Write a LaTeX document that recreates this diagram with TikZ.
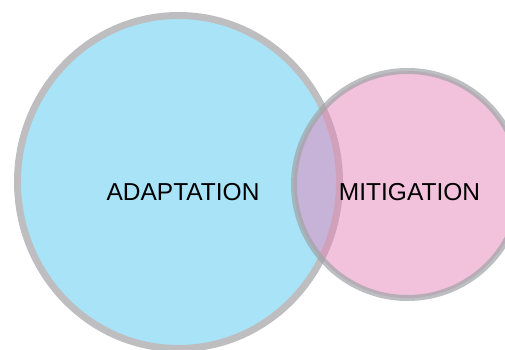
\documentclass[tikz,border=0pt]{standalone}
\usepackage{fontspec}
\setmainfont{Liberation Sans}
\usepackage{tikz}
\usetikzlibrary{positioning,shapes.geometric}

\definecolor{adaptBlue}{RGB}{169,227,248}
\definecolor{mitiPink}{RGB}{229,133,185}
\definecolor{ringGray}{RGB}{190,190,192}
\definecolor{ringDark}{RGB}{160,164,166}

\begin{document}
\begin{tikzpicture}[%
    x=1pt,
    y=-1pt,
    bigCircle/.style={%
        draw=ringGray,
        fill=adaptBlue,
        ellipse,
        inner sep=0pt,
        outer sep=0pt,
        line width=7pt,
        minimum width=322pt,
        minimum height=333pt
    },
    smallCircle/.style={%
        draw=ringDark,
        draw opacity=0.7,
        fill=mitiPink,
        fill opacity=0.5,
        circle,
        inner sep=0pt,
        outer sep=0pt,
        line width=6pt,
        minimum size=227pt
    },
    label/.style={%
        font=\fontsize{24.5}{28}\selectfont,
        text=black,
        inner sep=0pt
    }
]
\useasboundingbox (0,0) rectangle (505,350);

% Circles
    \node[bigCircle] (adaptation) at (178.5,182) {};
    \node[smallCircle] (mitigation) at (407.5,184.5) {};

% Labels
    \node[label] (adaptLabel) at (183,192) {ADAPTATION};
    \node[label] (mitiLabel) at (409.5,192) {MITIGATION};

\end{tikzpicture}
\end{document}
